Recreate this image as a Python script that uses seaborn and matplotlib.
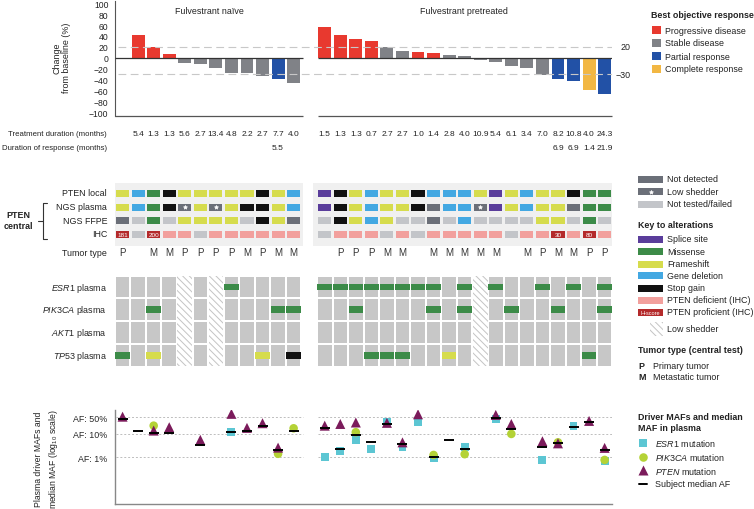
import numpy as np
import pandas as pd
import matplotlib
matplotlib.use('Agg')
import matplotlib.pyplot as plt
from matplotlib.patches import Rectangle
from matplotlib.colors import ListedColormap
from matplotlib.ticker import NullLocator
import seaborn as sns

# ---------------- data ----------------
# 12 fulvestrant-naive columns, 19 pretreated columns
n_left, n_right = 12, 19

# best % change from baseline (first naive patient had no measurement)
change = [np.nan, 42, 20, 7, -10, -12, -19.5, -27.5, -27.5, -33.5, -39, -47,
          57, 42, 34, 31, 20, 12, 10, 9, 5.5, 3.7, -3.7, -8.5, -16, -19, -32, -39, -43, -60, -66]
response = ['', 'PD', 'PD', 'PD', 'SD', 'SD', 'SD', 'SD', 'SD', 'SD', 'PR', 'SD',
            'PD', 'PD', 'PD', 'PD', 'SD', 'SD', 'PD', 'PD', 'SD', 'SD', 'SD', 'SD', 'SD', 'SD', 'SD',
            'PR', 'PR', 'CR', 'PR']

treat_dur = ['', '5.4', '1.3', '1.3', '5.6', '2.7', '13.4', '4.8', '2.2', '2.7', '7.7', '4.0',
             '1.5', '1.3', '1.3', '0.7', '2.7', '2.7', '1.0', '1.4', '2.8', '4.0', '10.9', '5.4',
             '6.1', '3.4', '7.0', '8.2', '10.8', '4.0', '24.3']
resp_dur = [''] * 10 + ['5.5', ''] + [''] * 15 + ['6.9', '6.9', '1.4', '21.9']

# PTEN status codes: Y frameshift, B deletion, G missense, K stop gain, S splice,
# N not detected, L low shedder, T not tested, D deficient IHC, H proficient IHC
pten_local = list('YBGKYYYYYKYB') + list('SKYBYYKBBBYSYBYYKGG')
ngs_plasma = list('YBGKLYLYKKYB') + list('SKYBYYKNBBLSYBYYNGG')
ngs_ffpe = list('NTGTYYYYTKYN') + list('TKYBYTTNTBTTTTYYTGT')
ihc = list('HTHDDTDDDDDD') + list('TDDDTDTDDDDDTDDHDHD')
hscore = ['181', '', '200'] + [''] * 24 + ['30', '', '80', '']
tumor_type = list('P MMPPPPMPMM') + list(' PPPMM MMMMM MPMMPP')

# other plasma alterations
esr1 = '.......G....' + 'GGGGGGGG.G.G..G.G.G'
pik3ca = '..G.......GG' + '..G....G.G..G..G..G'
akt1 = '.' * 31
tp53 = 'G.Y......Y.K' + '...GGG..Y........G.'
alt_rows = [esr1, pik3ca, akt1, tp53]
alt_labels = [r'$\mathit{ESR1}$ plasma', r'$\mathit{PIK3CA}$ plasma',
              r'$\mathit{AKT1}$ plasma', r'$\mathit{TP53}$ plasma']

# driver MAFs (%), column index into the 31 patients
esr1_idx = [7, 12, 13, 14, 15, 16, 17, 18, 19, 21, 23, 26, 28, 30]
esr1_af = [11.6, 1.0, 1.9, 5.5, 2.25, 31, 2.8, 31, 0.93, 2.8, 43, 0.77, 20.8, 0.72]
pik3ca_idx = [2, 10, 11, 14, 19, 21, 24, 27, 30]
pik3ca_af = [22, 1.4, 17, 11.6, 1.25, 1.35, 9.8, 4.3, 0.77]
pten_idx = [0, 2, 3, 5, 7, 8, 9, 10, 12, 13, 14, 16, 17, 18, 23, 24, 26, 27, 29, 30]
pten_af = [53, 13.6, 18.9, 5.5, 70, 17.7, 28, 2.56, 22, 26, 30, 29, 4.3, 67, 63, 26, 4.8, 3.9, 35, 2.5]
median_idx = [0, 1, 2, 3, 5, 7, 8, 9, 10, 11, 12, 13, 14, 15, 16, 17, 19, 20, 21, 23, 24, 26, 27, 28, 29, 30]
median_af = [43, 13.4, 10.5, 10.5, 3.3, 12.3, 12.8, 20.8, 2.0, 12.8, 17, 2.2, 8.9, 4.3, 26, 3.7,
             1.03, 5.5, 2.25, 47, 16, 2.8, 3.9, 18.9, 31, 2.05]

# ---------------- styling ----------------
resp_colors = {'PD': '#e8392f', 'SD': '#808287', 'PR': '#2251a6', 'CR': '#f2b743'}
resp_names = [('PD', 'Progressive disease'), ('SD', 'Stable disease'),
              ('PR', 'Partial response'), ('CR', 'Complete response')]
code_colors = {'Y': '#d6dc4d', 'B': '#43a8e2', 'G': '#3c8b48', 'K': '#111111', 'S': '#5a3d9b',
               'N': '#6b6f78', 'L': '#6b6f78', 'T': '#c3c5c9', 'D': '#f2a09d', 'H': '#b42a2b'}
gene_colors = {'ESR1': '#5cc6d3', 'PIK3CA': '#b4d236', 'PTEN': '#7b1b5b'}
txt = '#222222'

sns.set_style('white')
plt.rcParams['font.family'] = ['Liberation Sans', 'DejaVu Sans']
plt.rcParams['mathtext.fontset'] = 'custom'
plt.rcParams['mathtext.rm'] = 'Liberation Sans'
plt.rcParams['mathtext.it'] = 'Liberation Sans:italic'
plt.rcParams['mathtext.bf'] = 'Liberation Sans:bold'
plt.rcParams['hatch.linewidth'] = 0.7
plt.rcParams['text.color'] = txt

W, H = 754, 510
fig = plt.figure(figsize=(W / 100, H / 100), dpi=100)


def box(x0, y0, x1, y1):
    return [x0 / W, 1 - y1 / H, (x1 - x0) / W, (y1 - y0) / H]


XL, XR = 114.8, 612.4  # pixel extent of 32 column slots
col_x = np.r_[np.arange(n_left) + 0.5, np.arange(n_right) + 13.5]
low_shed = [i for i, c in enumerate(ngs_plasma) if c == 'L']
seg = [(0, 12.1), (13.07, 31.95)]

# overlay axes in pixel coordinates for legends / free text
ax_o = fig.add_axes([0, 0, 1, 1], zorder=10)
ax_o.set_xlim(0, W)
ax_o.set_ylim(H, 0)
ax_o.axis('off')

# ---------------- waterfall ----------------
ax_w = fig.add_axes(box(XL, 1.5, XR, 117))
wf = pd.DataFrame({'x': col_x, 'change': change, 'resp': response}).dropna()
sns.barplot(data=wf, x='x', y='change', hue='resp', palette=resp_colors, native_scale=True,
            dodge=False, width=0.83, errorbar=None, legend=False, saturation=1,
            linewidth=0, ax=ax_w)
ax_w.set_xlim(0, 32)
ax_w.set_ylim(-107, 105)
sns.despine(ax=ax_w, bottom=True)
ax_w.spines['left'].set_color('#555555')
ax_w.spines['left'].set_linewidth(0.8)
ax_w.set_yticks(range(-100, 101, 20))
ax_w.tick_params(axis='y', length=2.5, width=0.6, labelsize=6.2, pad=2, colors='#555555',
                 labelcolor=txt)
ax_w.set_xticks([])
ax_w.set_xlabel('')
ax_w.set_ylabel('')
for a, b in seg:
    ax_w.hlines(0, a, b, color='#333333', lw=0.9, zorder=4)
    ax_w.hlines(-107, a, b, color='#555555', lw=0.9, clip_on=False)
ax_w.hlines([20, -30], 0.2, 32.0, colors='#c8c8c8', lw=0.8, linestyles=(0, (7, 4)), zorder=5)
ax_w.text(33.15, 20, '20', ha='right', va='center', fontsize=6.4)
ax_w.text(33.15, -30, '\u221230', ha='right', va='center', fontsize=6.4)
ax_o.text(209, 11, 'Fulvestrant naïve', ha='center', va='center', fontsize=6.4)
ax_o.text(464, 11, 'Fulvestrant pretreated', ha='center', va='center', fontsize=6.4)
ax_o.text(62, 58, 'Change\nfrom baseline (%)', rotation=90, ha='center', va='center',
          fontsize=6.4, multialignment='center', linespacing=1.1)

# ---------------- durations + PTEN status ----------------
ax_p = fig.add_axes(box(XL, 125, XR, 262))
ax_p.set_xlim(0, 32)
ax_p.set_ylim(262, 125)
ax_p.axis('off')

for x, t, r in zip(col_x, treat_dur, resp_dur):
    ax_p.text(x, 135, t, ha='center', va='center', fontsize=6)
    ax_p.text(x, 148.5, r, ha='center', va='center', fontsize=6)
ax_p.text(-0.5, 135, 'Treatment duration (months)', ha='right', va='center', fontsize=5.6)
ax_p.text(-0.5, 148.5, 'Duration of response (months)', ha='right', va='center', fontsize=5.6)

ax_p.add_patch(Rectangle((0, 184), 12.1, 63, fc='#f0f0f0', ec='none', zorder=0))
ax_p.add_patch(Rectangle((12.75, 184), 19.4, 63, fc='#f0f0f0', ec='none', zorder=0))

status_rows = [('PTEN local', pten_local, 194), ('NGS plasma', ngs_plasma, 208),
               ('NGS FFPE', ngs_ffpe, 221.5), ('IHC', ihc, 235)]
for label, codes, y in status_rows:
    ax_p.text(-0.5, y, label, ha='right', va='center', fontsize=6.4)
    for x, c in zip(col_x, codes):
        ax_p.add_patch(Rectangle((x - 0.42, y - 3.5), 0.84, 7, fc=code_colors[c], ec='none', zorder=2))
        if c == 'L':
            ax_p.plot(x, y, marker=(5, 1), ms=3, color='white', mew=0.4, zorder=3)
for x, s in zip(col_x, hscore):
    if s:
        ax_p.text(x, 235.3, s, ha='center', va='center', fontsize=4.6, color='white', zorder=3)
ax_p.text(-0.5, 253.5, 'Tumor type', ha='right', va='center', fontsize=6.4)
for x, t in zip(col_x, tumor_type):
    ax_p.text(x, 253.5, t, ha='center', va='center', fontsize=7, color='#333333')

# bracket for PTEN central
ax_o.text(18, 221, 'PTEN\ncentral', ha='center', va='center', fontsize=6.4, fontweight='bold',
          linespacing=1.2)
ax_o.plot([47, 43, 43, 47], [203.5, 203.5, 239.5, 239.5], color='#333333', lw=0.8)
ax_o.plot([38, 43], [221.5, 221.5], color='#333333', lw=0.8)

# ---------------- alteration grid ----------------
ax_a = fig.add_axes(box(XL, 276.7, XR, 367.7))
grid = np.ones((4, 32))
grid[:, 12] = np.nan
sns.heatmap(grid, cmap=ListedColormap(['#c7c7c7']), cbar=False, linewidths=1.2,
            linecolor='white', xticklabels=False, yticklabels=alt_labels, ax=ax_a)
ax_a.tick_params(axis='y', length=0, pad=5.6, labelsize=6.4, rotation=0)
for r, row in enumerate(alt_rows):
    for x, c in zip(col_x, row):
        if c != '.':
            ax_a.add_patch(Rectangle((x - 0.47, r + 0.35), 0.94, 0.3, fc=code_colors[c],
                                     ec='none', zorder=3))
for i in low_shed:
    ax_a.add_patch(Rectangle((col_x[i] - 0.47, 0.02), 0.94, 3.96, fc='white', ec='#c4c4c4',
                             lw=0, hatch='\\' * 5, zorder=3))

# ---------------- MAF panel ----------------
ax_m = fig.add_axes(box(XL, 410.7, XR, 505))
maf = pd.concat([
    pd.DataFrame({'x': col_x[esr1_idx], 'af': esr1_af, 'gene': 'ESR1'}),
    pd.DataFrame({'x': col_x[pik3ca_idx], 'af': pik3ca_af, 'gene': 'PIK3CA'}),
    pd.DataFrame({'x': col_x[pten_idx], 'af': pten_af, 'gene': 'PTEN'}),
], ignore_index=True)
sns.scatterplot(data=maf, x='x', y='af', hue='gene', style='gene', size='gene',
                palette=gene_colors, markers={'ESR1': 's', 'PIK3CA': 'o', 'PTEN': '^'},
                sizes={'ESR1': 32, 'PIK3CA': 38, 'PTEN': 52}, linewidth=0, legend=False,
                zorder=3, ax=ax_m)
med = pd.DataFrame({'x': col_x[median_idx], 'af': median_af})
sns.scatterplot(data=med, x='x', y='af', marker='_', s=52, color='black', linewidth=1.4,
                zorder=4, ax=ax_m)
ax_m.set_yscale('log')
ax_m.set_ylim(0.0103, 105)
ax_m.set_xlim(0, 32)
sns.despine(ax=ax_m)
for sp in ['left', 'bottom']:
    ax_m.spines[sp].set_color('#888888')
    ax_m.spines[sp].set_linewidth(1)
ax_m.set_yticks([1, 10, 50])
ax_m.set_yticklabels(['AF: 1%', 'AF: 10%', 'AF: 50%'])
ax_m.yaxis.set_minor_locator(NullLocator())
ax_m.tick_params(axis='y', length=0, pad=5.5, labelsize=6.4)
ax_m.set_xticks([])
ax_m.set_xlabel('')
ax_m.set_ylabel('')
for a, b in [(0.1, 12.1), (13.05, 32)]:
    ax_m.hlines([1, 10, 50], a, b, colors='#bdbdbd', lw=0.7, linestyles=(0, (2, 2)), zorder=1)
ax_o.text(47, 459, 'Plasma driver MAFs and\nmedian MAF (log$_{10}$ scale)', rotation=90,
          ha='center', va='center', fontsize=6.2, multialignment='center', linespacing=1.45)

# ---------------- legends ----------------
ax_o.text(651, 16, 'Best objective response', fontsize=6.4, fontweight='bold', va='center')
for k, (code, name) in enumerate(resp_names):
    y = 31 + 13 * k
    ax_o.add_patch(Rectangle((652, y - 4.2), 8.5, 8.5, fc=resp_colors[code], ec='none'))
    ax_o.text(665, y, name, fontsize=6.4, va='center')

status_leg = [('N', 'Not detected', 180), ('L', 'Low shedder', 192.7), ('T', 'Not tested/failed', 205)]
for code, name, y in status_leg:
    ax_o.add_patch(Rectangle((638, y - 3.5), 25, 7, fc=code_colors[code], ec='none'))
    if code == 'L':
        ax_o.plot(650.5, y, marker=(5, 1), ms=3, color='white', mew=0.4)
    ax_o.text(667, y, name, fontsize=6.4, va='center')

ax_o.text(638, 225.7, 'Key to alterations', fontsize=6.4, fontweight='bold', va='center')
alt_leg = [('S', 'Splice site', 240), ('G', 'Missense', 252.7), ('Y', 'Frameshift', 265),
           ('B', 'Gene deletion', 276.7), ('K', 'Stop gain', 289),
           ('D', 'PTEN deficient (IHC)', 301), ('H', 'PTEN proficient (IHC)', 313)]
for code, name, y in alt_leg:
    ax_o.add_patch(Rectangle((638, y - 3.5), 25, 7, fc=code_colors[code], ec='none'))
    if code == 'H':
        ax_o.text(650.5, y + 0.3, 'H-score', fontsize=4, color='white', ha='center', va='center')
    ax_o.text(667, y, name, fontsize=6.4, va='center')
ax_o.add_patch(Rectangle((650, 323), 13, 14, fc='white', ec='#c4c4c4', lw=0, hatch='\\' * 5))
ax_o.text(667, 330, 'Low shedder', fontsize=6.4, va='center')

ax_o.text(638, 351, 'Tumor type (central test)', fontsize=6.4, fontweight='bold', va='center')
ax_o.text(638, 366.7, 'P', fontsize=6.4, fontweight='bold', va='center')
ax_o.text(653, 366.7, 'Primary tumor', fontsize=6.4, va='center')
ax_o.text(638, 377.7, 'M', fontsize=6.4, fontweight='bold', va='center')
ax_o.text(653, 377.7, 'Metastatic tumor', fontsize=6.4, va='center')

ax_o.text(638, 423, 'Driver MAFs and median\nMAF in plasma', fontsize=6.4, fontweight='bold',
          va='center', linespacing=1.25)
gene_leg = [('ESR1', 's', 32, 444), ('PIK3CA', 'o', 38, 457.7), ('PTEN', '^', 52, 471.3)]
for g, m, s, y in gene_leg:
    ax_o.scatter([643], [y], marker=m, s=s, color=gene_colors[g], linewidths=0)
    ax_o.text(655, y, r'$\mathit{' + g + '}$ mutation', fontsize=6.4, va='center')
ax_o.plot([639, 647], [485, 485], color='black', lw=1.4)
ax_o.text(655, 485, 'Subject median AF', fontsize=6.4, va='center')

fig.savefig('out.png', dpi=100)
